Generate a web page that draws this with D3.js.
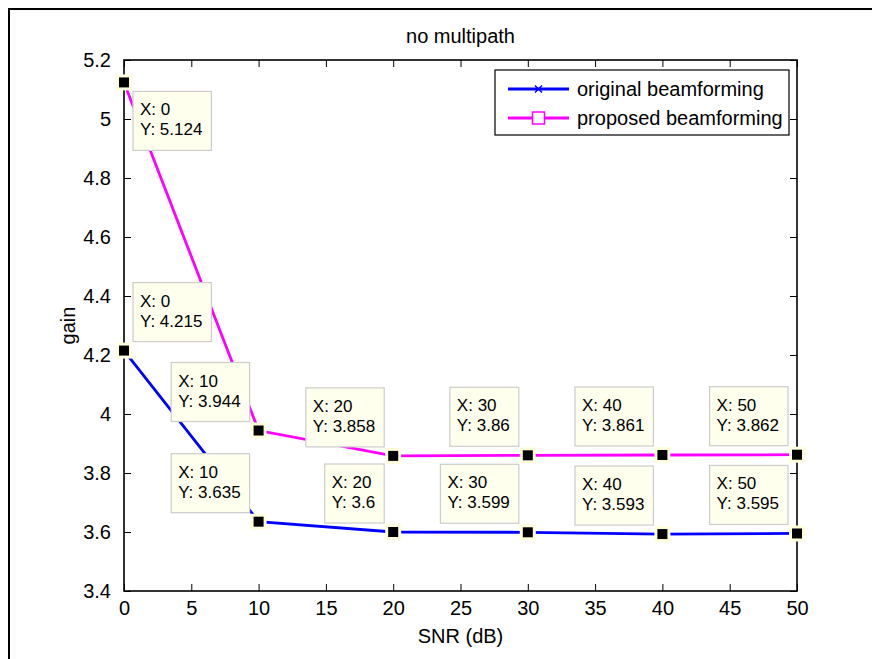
<!DOCTYPE html>
<html>
<head>
<meta charset="utf-8">
<script src="https://cdn.jsdelivr.net/npm/d3@7"></script>
<style>
  html, body { margin: 0; padding: 0; background: #fff; }
  svg { display: block; font-family: "Liberation Sans", Arial, sans-serif; }
</style>
</head>
<body>
<svg id="chart" width="872" height="659"></svg>
<script>
// ---- data ----
const snr = [0, 10, 20, 30, 40, 50];
const originalGain = [4.215, 3.635, 3.6, 3.599, 3.593, 3.595];
const proposedGain = [5.124, 3.944, 3.858, 3.86, 3.861, 3.862];
const originalTipLabels = ["4.215", "3.635", "3.6", "3.599", "3.593", "3.595"];
const proposedTipLabels = ["5.124", "3.944", "3.858", "3.86", "3.861", "3.862"];
const xTicks = [0, 5, 10, 15, 20, 25, 30, 35, 40, 45, 50];
const yTicks = [3.4, 3.6, 3.8, 4.0, 4.2, 4.4, 4.6, 4.8, 5.0, 5.2];
const yTickLabels = ["3.4", "3.6", "3.8", "4", "4.2", "4.4", "4.6", "4.8", "5", "5.2"];
const seriesNames = ["original beamforming", "proposed beamforming"];
const titleText = "no multipath";
const xLabelText = "SNR (dB)";
const yLabelText = "gain";
// data tip placement relative to point (layout)
const originalTipPlace = ["ne", "nw", "nw", "nw", "nw", "nw"];
const proposedTipPlace = ["se", "nw", "nw", "nw", "nw", "nw"];

// ---- layout ----
const svg = d3.select("#chart");
const L = 124, R = 797, T = 60, B = 591;
const x = d3.scaleLinear().domain([0, 50]).range([L, R]);
const y = d3.scaleLinear().domain([3.4, 5.2]).range([B, T]);
const blue = "#0000ff", magenta = "#ff00ff";
const fontAxis = 20, fontTip = 17;

// figure frame
svg.append("rect").attr("x", 9).attr("y", 9).attr("width", 900).attr("height", 700)
  .attr("fill", "#fff").attr("stroke", "#000").attr("stroke-width", 2);

// axes with inward ticks on all four sides
const tickLen = 7;
svg.append("g").attr("transform", `translate(0,${B})`)
  .call(d3.axisBottom(x).tickValues(xTicks).tickSizeInner(-tickLen).tickSizeOuter(0).tickPadding(10).tickFormat(d3.format("d")))
  .call(g => g.select(".domain").remove())
  .call(g => g.selectAll("text").attr("font-size", fontAxis).attr("font-family", "Liberation Sans, Arial").attr("fill", "#000"));
svg.append("g").attr("transform", `translate(0,${T})`)
  .call(d3.axisTop(x).tickValues(xTicks).tickSizeInner(-tickLen).tickSizeOuter(0).tickFormat(""))
  .call(g => g.select(".domain").remove());
svg.append("g").attr("transform", `translate(${L},0)`)
  .call(d3.axisLeft(y).tickValues(yTicks).tickSizeInner(-tickLen).tickSizeOuter(0).tickPadding(13)
    .tickFormat((d, i) => yTickLabels[i]))
  .call(g => g.select(".domain").remove())
  .call(g => g.selectAll("text").attr("font-size", fontAxis).attr("font-family", "Liberation Sans, Arial").attr("fill", "#000"));
svg.append("g").attr("transform", `translate(${R},0)`)
  .call(d3.axisRight(y).tickValues(yTicks).tickSizeInner(-tickLen).tickSizeOuter(0).tickFormat(""))
  .call(g => g.select(".domain").remove());
svg.selectAll(".tick line").attr("stroke", "#000").attr("stroke-width", 1);

// axes box
svg.append("rect").attr("x", L).attr("y", T).attr("width", R - L).attr("height", B - T)
  .attr("fill", "none").attr("stroke", "#000").attr("stroke-width", 1.6);

// title & labels
svg.append("text").attr("x", (L + R) / 2).attr("y", 43).attr("text-anchor", "middle")
  .attr("font-size", fontAxis).text(titleText);
svg.append("text").attr("x", (L + R) / 2).attr("y", 643).attr("text-anchor", "middle")
  .attr("font-size", fontAxis).text(xLabelText);
svg.append("text").attr("transform", `translate(75,${(T + B) / 2}) rotate(-90)`).attr("text-anchor", "middle")
  .attr("font-size", fontAxis).text(yLabelText);

// lines
const line = d3.line().x(d => x(d[0])).y(d => y(d[1]));
const origData = snr.map((s, i) => [s, originalGain[i]]);
const propData = snr.map((s, i) => [s, proposedGain[i]]);
const plot = svg.append("g");
plot.append("path").datum(origData).attr("d", line).attr("fill", "none").attr("stroke", blue).attr("stroke-width", 2.8);
plot.append("path").datum(propData).attr("d", line).attr("fill", "none").attr("stroke", magenta).attr("stroke-width", 2.8);

// series markers
plot.selectAll(".xm").data(origData).enter().append("path")
  .attr("transform", d => `translate(${x(d[0])},${y(d[1])})`)
  .attr("d", "M-3.5,-3.5L3.5,3.5M-3.5,3.5L3.5,-3.5").attr("stroke", blue).attr("stroke-width", 1.5);
plot.selectAll(".sm").data(propData).enter().append("rect")
  .attr("x", d => x(d[0]) - 6).attr("y", d => y(d[1]) - 6).attr("width", 12).attr("height", 12)
  .attr("fill", "none").attr("stroke", magenta).attr("stroke-width", 1.5);

// data tips
const tips = [];
origData.forEach((d, i) => tips.push({ d, label: originalTipLabels[i], place: originalTipPlace[i] }));
propData.forEach((d, i) => tips.push({ d, label: proposedTipLabels[i], place: proposedTipPlace[i] }));

const tipG = svg.append("g");
// markers
tipG.selectAll(".tm").data(tips).enter().append("rect")
  .attr("x", t => x(t.d[0]) - 6.5).attr("y", t => y(t.d[1]) - 6.5).attr("width", 13).attr("height", 13)
  .attr("fill", "#000").attr("stroke", "#ffffdd").attr("stroke-width", 3);

// boxes
const off = 9, boxH = 59;
tips.forEach(t => {
  const px = x(t.d[0]), py = y(t.d[1]);
  const g = tipG.append("g");
  const rect = g.append("rect").attr("fill", "#ffffee").attr("stroke", "#cccccc").attr("stroke-width", 1.2);
  const l1 = g.append("text").attr("font-size", fontTip).attr("fill", "#000").text("X: " + t.d[0]);
  const l2 = g.append("text").attr("font-size", fontTip).attr("fill", "#000").text("Y: " + t.label);
  const w = Math.max(l1.node().getComputedTextLength(), l2.node().getComputedTextLength()) + 16;
  let bx = t.place.includes("e") ? px + off : px - off - w;
  let by = t.place.includes("s") ? py + off : py - off - boxH;
  rect.attr("x", bx).attr("y", by).attr("width", w).attr("height", boxH);
  l1.attr("x", bx + 7).attr("y", by + 24);
  l2.attr("x", bx + 7).attr("y", by + 44);
});

// legend
const lg = svg.append("g");
lg.append("rect").attr("x", 495).attr("y", 70).attr("width", 294).attr("height", 65)
  .attr("fill", "#fff").attr("stroke", "#000").attr("stroke-width", 1.2);
const legendRows = [89, 118];
const colors = [blue, magenta];
seriesNames.forEach((name, i) => {
  const ly = legendRows[i];
  lg.append("line").attr("x1", 508).attr("x2", 569).attr("y1", ly).attr("y2", ly)
    .attr("stroke", colors[i]).attr("stroke-width", 2.8);
  if (i === 0) {
    lg.append("path").attr("transform", `translate(538.5,${ly})`)
      .attr("d", "M-3.5,-3.5L3.5,3.5M-3.5,3.5L3.5,-3.5").attr("stroke", blue).attr("stroke-width", 1.5);
  } else {
    lg.append("rect").attr("x", 532.5).attr("y", ly - 6).attr("width", 12).attr("height", 12)
      .attr("fill", "#fff").attr("stroke", magenta).attr("stroke-width", 1.5);
  }
  lg.append("text").attr("x", 577).attr("y", ly + 7).attr("font-size", fontAxis).text(name);
});
</script>
</body>
</html>
